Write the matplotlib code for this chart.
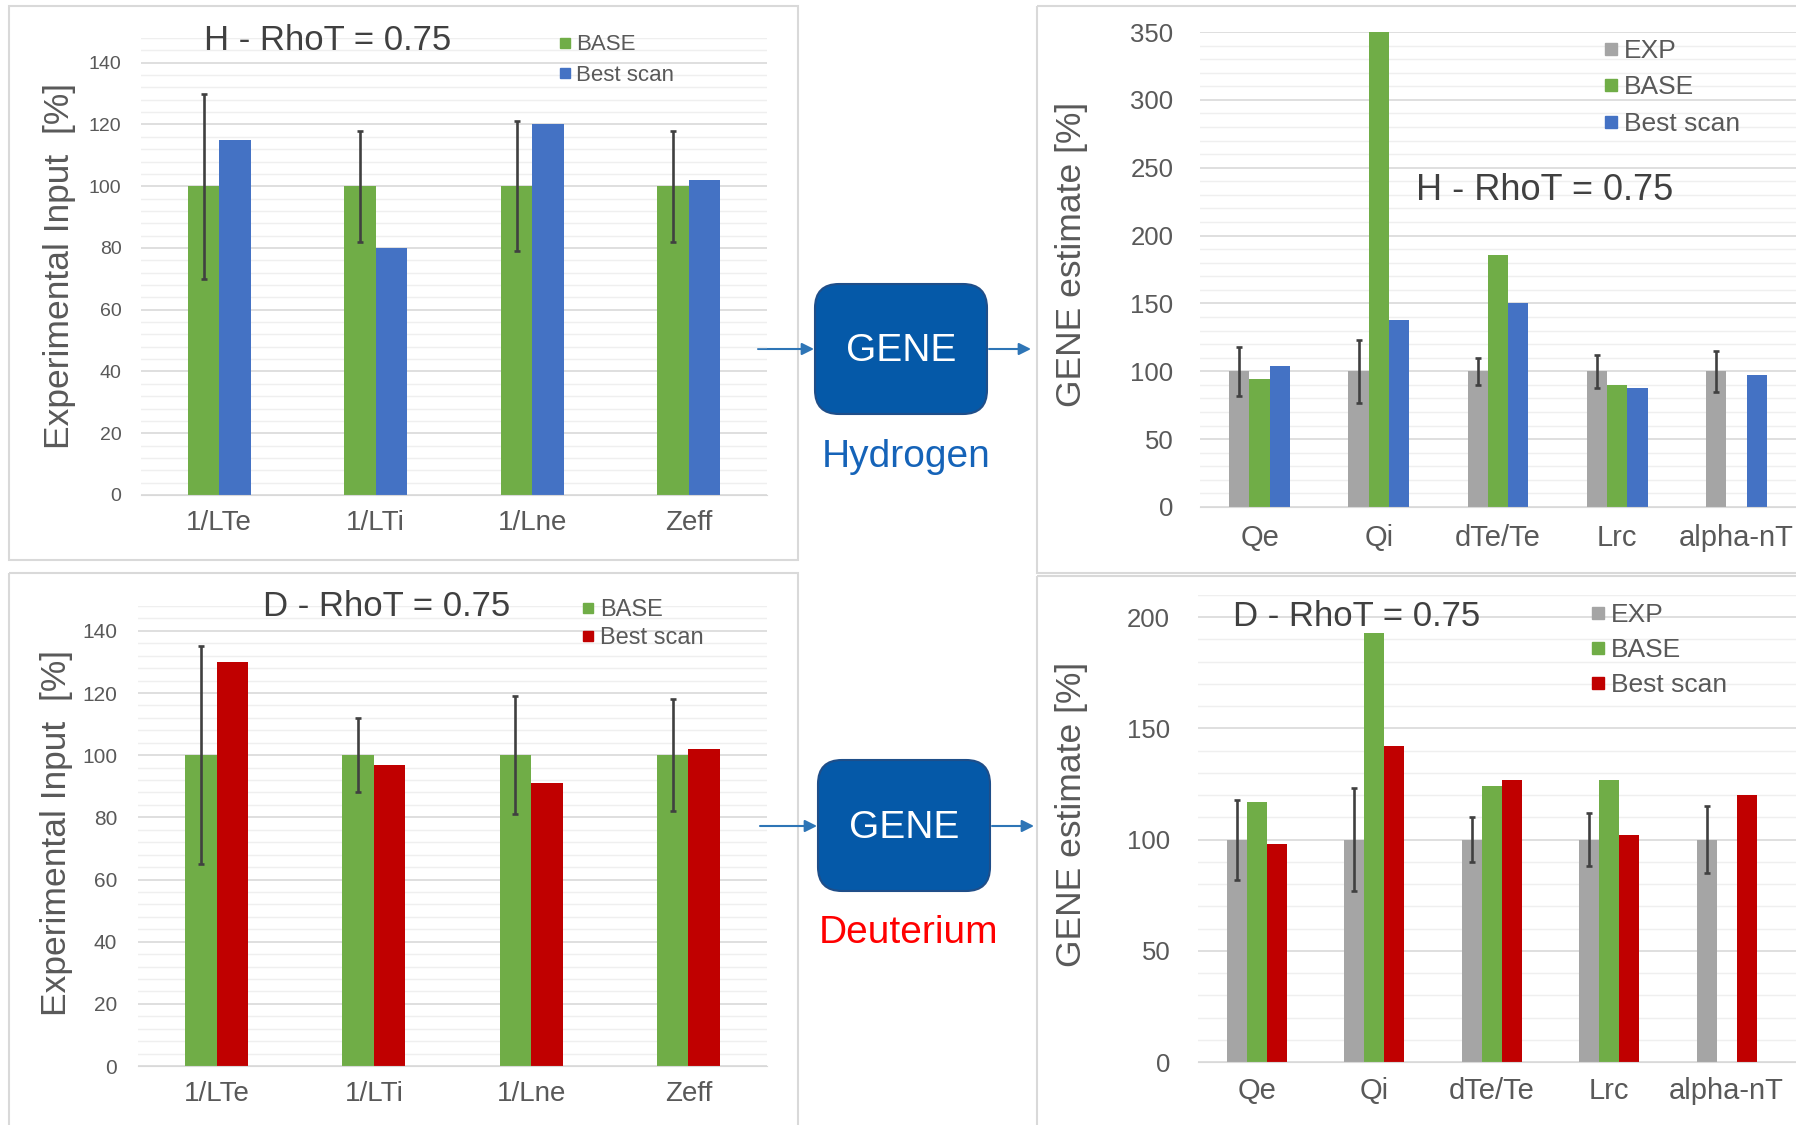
import matplotlib.pyplot as plt
import numpy as np
from matplotlib.patches import FancyBboxPatch, Rectangle
from matplotlib.lines import Line2D

plt.rcParams['font.family'] = ['Liberation Sans', 'DejaVu Sans']

# input gradients, percent of the experimental value
inputs = ['1/LTe', '1/LTi', '1/Lne', 'Zeff']
h_in_base = [100, 100, 100, 100]
h_in_best = [115, 80, 120, 102]
h_in_err_lo = [70, 82, 79, 82]
h_in_err_hi = [130, 118, 121, 118]
d_in_base = [100, 100, 100, 100]
d_in_best = [130, 97, 91, 102]
d_in_err_lo = [65, 88, 81, 82]
d_in_err_hi = [135, 112, 119, 118]

# GENE outputs, percent of the experimental value
outputs = ['Qe', 'Qi', 'dTe/Te', 'Lrc', 'alpha-nT']
h_out_exp = [100, 100, 100, 100, 100]
h_out_base = [94, 350, 186, 90, np.nan]
h_out_best = [104, 138, 150, 88, 97]
h_out_err_lo = [82, 77, 90, 88, 85]
h_out_err_hi = [118, 123, 110, 112, 115]
d_out_exp = [100, 100, 100, 100, 100]
d_out_base = [117, 193, 124, 127, np.nan]
d_out_best = [98, 142, 127, 102, 120]
d_out_err_lo = [82, 77, 90, 88, 85]
d_out_err_hi = [118, 123, 110, 112, 115]

GREEN = '#70AD47'
BLUE = '#4472C4'
GREY = '#A5A5A5'
RED = '#C00000'
TXT = '#595959'

W, H = 1796, 1125
fig = plt.figure(figsize=(W / 100, H / 100), dpi=100)


def px_rect(l, t, r, b):
    return [l / W, 1 - b / H, (r - l) / W, (b - t) / H]


def fxy(x, y):
    return x / W, 1 - y / H


def bar_panel(rect, cats, series, colors, width, lo, hi, ymax, major, minor,
              tick_fs, xtick_fs, ypad, xpad):
    ax = fig.add_axes(px_rect(*rect))
    ax.patch.set_visible(False)
    x = np.arange(len(cats))
    n = len(series)
    for i, (vals, c) in enumerate(zip(series, colors)):
        vals = np.asarray(vals, float)
        ok = ~np.isnan(vals)
        pos = x + (i - (n - 1) / 2) * width
        ax.bar(pos[ok], vals[ok], width, color=c, zorder=2)
    # error bars sit on the first (reference) series
    ref = np.asarray(series[0], float)
    ref_x = x - (n - 1) / 2 * width
    ax.errorbar(ref_x, ref, yerr=[ref - np.asarray(lo), np.asarray(hi) - ref],
                fmt='none', ecolor='#404040', elinewidth=1.9, capsize=2.5,
                capthick=1.9, zorder=3)
    ax.set_xlim(-0.5, len(cats) - 0.5)
    ax.set_ylim(0, ymax)
    ax.set_yticks(np.arange(0, ymax + 0.1, major))
    ax.set_yticks(np.arange(0, ymax + 0.1, minor), minor=True)
    ax.grid(which='major', axis='y', color='#D9D9D9', lw=1.2, zorder=0)
    ax.grid(which='minor', axis='y', color='#EFEFEF', lw=1.0, zorder=0)
    ax.set_xticks(x)
    ax.set_xticklabels(cats)
    ax.tick_params(axis='y', which='both', length=0, labelsize=tick_fs,
                   labelcolor=TXT, pad=ypad)
    ax.tick_params(axis='x', length=0, labelsize=xtick_fs, labelcolor=TXT,
                   pad=xpad)
    for s in ['top', 'right', 'left']:
        ax.spines[s].set_visible(False)
    ax.spines['bottom'].set_color('#D9D9D9')
    ax.set_axisbelow(True)
    return ax


def legend(labels, colors, x, y, fs, ms, spacing):
    handles = [Line2D([], [], ls='none', marker='s', ms=ms, color=c, label=l)
               for l, c in zip(labels, colors)]
    fig.legend(handles=handles, loc='upper left', bbox_to_anchor=fxy(x, y),
               frameon=False, fontsize=fs, handlelength=0.5,
               handletextpad=0.25, labelspacing=spacing, borderpad=0,
               borderaxespad=0, labelcolor=TXT)


# panel frames and flow diagram drawn on a full-figure canvas
canvas = fig.add_axes([0, 0, 1, 1], zorder=-1)
canvas.set_xlim(0, W)
canvas.set_ylim(H, 0)
canvas.axis('off')
for l, t, r, b in [(9, 6, 798, 560), (9, 573, 798, 1130),
                   (1037, 6, 1800, 573), (1037, 576, 1800, 1130)]:
    canvas.add_patch(Rectangle((l, t), r - l, b - t, fill=False,
                               ec='#D9D9D9', lw=1.5))

# hydrogen inputs
bar_panel((141, 38, 767, 495), inputs, [h_in_base, h_in_best], [GREEN, BLUE],
          0.2, h_in_err_lo, h_in_err_hi, 148, 20, 4, 14, 20, 14, 11)
fig.text(*fxy(328, 40), 'H - RhoT = 0.75', fontsize=25, color='#404040',
         ha='center', va='center')
legend(['BASE', 'Best scan'], [GREEN, BLUE], 559, 34.5, 16, 6.5, 0.41)
fig.text(*fxy(60, 266), 'Experimental Input  [%]', fontsize=25.5, color=TXT,
         rotation=90, ha='center', va='center')

# deuterium inputs
bar_panel((138, 606, 767, 1066), inputs, [d_in_base, d_in_best], [GREEN, RED],
          0.2, d_in_err_lo, d_in_err_hi, 148, 20, 4, 15, 20, 15, 11)
fig.text(*fxy(387, 606), 'D - RhoT = 0.75', fontsize=25, color='#404040',
         ha='center', va='center')
legend(['BASE', 'Best scan'], [GREEN, RED], 582, 599, 17, 6.5, 0.25)
fig.text(*fxy(57, 833), 'Experimental Input  [%]', fontsize=25.5, color=TXT,
         rotation=90, ha='center', va='center')

# hydrogen outputs
bar_panel((1200, 32, 1796, 507), outputs, [h_out_exp, h_out_base, h_out_best],
          [GREY, GREEN, BLUE], 0.17, h_out_err_lo, h_out_err_hi, 350, 50, 10,
          18.5, 21, 19, 12)
fig.text(*fxy(1545, 190), 'H - RhoT = 0.75', fontsize=26, color='#404040',
         ha='center', va='center')
legend(['EXP', 'BASE', 'Best scan'], [GREY, GREEN, BLUE], 1604, 39, 19, 8,
       0.47)
fig.text(*fxy(1072, 254), 'GENE estimate [%]', fontsize=25.5, color=TXT,
         rotation=90, ha='center', va='center')

# deuterium outputs
ax = bar_panel((1198, 595, 1796, 1062), outputs,
               [d_out_exp, d_out_base, d_out_best], [GREY, GREEN, RED], 0.17,
               d_out_err_lo, d_out_err_hi, 210, 50, 10, 18.5, 21, 20, 11)
ax.set_xlim(-0.5, 4.59)
fig.text(*fxy(1357, 616), 'D - RhoT = 0.75', fontsize=25, color='#404040',
         ha='center', va='center')
legend(['EXP', 'BASE', 'Best scan'], [GREY, GREEN, RED], 1591, 603, 19, 8,
       0.42)
fig.text(*fxy(1072, 814), 'GENE estimate [%]', fontsize=25.5, color=TXT,
         rotation=90, ha='center', va='center')

# GENE boxes with arrows
for (l, t, r, b), yarr, (a0, a1), (c0, c1), name, col, ny in [
        ((815, 284, 987, 414), 349, (758, 814), (989, 1031), 'Hydrogen',
         '#1563B8', 457),
        ((818, 760, 990, 891), 826, (760, 817), (992, 1034), 'Deuterium',
         '#FF0000', 933)]:
    canvas.add_patch(FancyBboxPatch((l, t), r - l, b - t,
                                    boxstyle='round,pad=0,rounding_size=24',
                                    fc='#0559A8', ec='#1F4E89', lw=1.5))
    canvas.text((l + r) / 2, (t + b) / 2 + 2, 'GENE', color='white',
                fontsize=28, ha='center', va='center')
    canvas.text((l + r) / 2 + 5, ny, name, color=col, fontsize=28,
                ha='center', va='center')
    for s, e in [(a0, a1), (c0, c1)]:
        canvas.annotate('', xy=(e, yarr), xytext=(s, yarr),
                        arrowprops=dict(arrowstyle='-|>', color='#2E75B6',
                                        lw=1.5, mutation_scale=18,
                                        shrinkA=0, shrinkB=0))

fig.savefig('out.png', dpi=100, facecolor='white')
